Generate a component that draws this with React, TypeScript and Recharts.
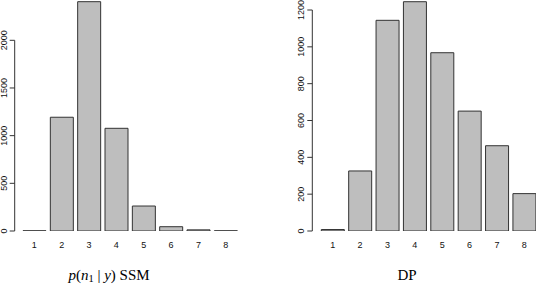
import { BarChart, Bar, XAxis, YAxis } from 'recharts';

const categories = ['1', '2', '3', '4', '5', '6', '7', '8'];
const ssmValues = [2, 1193, 2405, 1077, 262, 45, 12, 2];
const dpValues = [8, 326, 1144, 1245, 968, 651, 463, 203];
const ssmTicks = [0, 500, 1000, 1500, 2000];
const dpTicks = [0, 200, 400, 600, 800, 1000, 1200];

const ssmData = categories.map((c, i) => ({ name: c, value: ssmValues[i] }));
const dpData = categories.map((c, i) => ({ name: c, value: dpValues[i] }));

const SANS = 'Liberation Sans, Arial, Helvetica, sans-serif';
const SERIF = 'Liberation Serif, Times New Roman, serif';
const H = 284;
const BASE = 231; // pixel row of the zero line

const YTick = (props: any) => {
  const { x, y, payload } = props;
  const tx = x - 1;
  return (
    <text
      x={tx}
      y={y}
      transform={`rotate(-90 ${tx} ${y})`}
      textAnchor="middle"
      fontSize={9}
      fontFamily={SANS}
      fill="#111"
    >
      {payload.value}
    </text>
  );
};

interface PanelProps {
  data: { name: string; value: number }[];
  ticks: number[];
  width: number;
  axisX: number; // x of the y axis line
  padLeft: number;
  right: number;
  topTickY: number; // pixel row of the last tick
}

function Panel({ data, ticks, width, axisX, padLeft, right, topTickY }: PanelProps) {
  const topTick = ticks[ticks.length - 1];
  const domainMax = (topTick * BASE) / (BASE - topTickY);
  return (
    <div style={{ position: 'relative', width, height: H }}>
      <div style={{ position: 'absolute', left: 0, top: 0 }}>
        <BarChart
          width={width}
          height={H}
          data={data}
          margin={{ top: 0, right, bottom: H - BASE - 20, left: axisX }}
          barCategoryGap="8.4%"
        >
          <XAxis
            dataKey="name"
            height={20}
            axisLine={false}
            tickLine={false}
            tickMargin={5}
            padding={{ left: padLeft, right: 0 }}
            tick={{ fontSize: 9, fontFamily: SANS, fill: '#111' }}
            interval={0}
          />
          <YAxis hide domain={[0, domainMax]} allowDataOverflow />
          <Bar
            dataKey="value"
            fill="#bebebe"
            stroke="#333"
            strokeWidth={1}
            isAnimationActive={false}
          />
        </BarChart>
      </div>
      {/* axis-only chart: the y axis line runs from 0 up to the last tick */}
      <div style={{ position: 'absolute', left: 0, top: 0 }}>
        <BarChart
          width={width}
          height={H}
          data={data}
          margin={{ top: topTickY, right, bottom: H - BASE, left: 0 }}
        >
          <XAxis dataKey="name" hide />
          <YAxis
            width={axisX}
            domain={[0, topTick]}
            allowDataOverflow
            ticks={ticks}
            interval={0}
            tickSize={5}
            tickMargin={2}
            stroke="#333"
            tick={YTick}
          />
          <Bar dataKey="value" fill="none" stroke="none" isAnimationActive={false} />
        </BarChart>
      </div>
    </div>
  );
}

export default function App() {
  return (
    <div
      style={{
        position: 'absolute',
        left: 0,
        top: 0,
        width: 536,
        height: H,
        overflow: 'hidden',
        background: '#fff',
      }}
    >
      <div style={{ position: 'absolute', left: 0, top: 0 }}>
        <Panel
          data={ssmData}
          ticks={ssmTicks}
          width={268}
          axisX={14.7}
          padLeft={6}
          right={28.6}
          topTickY={40.3}
        />
      </div>
      <div style={{ position: 'absolute', left: 268, top: 0 }}>
        <Panel
          data={dpData}
          ticks={dpTicks}
          width={270}
          axisX={44.3}
          padLeft={6.7}
          right={0}
          topTickY={10}
        />
      </div>
      <svg
        width={536}
        height={H}
        style={{ position: 'absolute', left: 0, top: 0, pointerEvents: 'none' }}
      >
        <text x={109} y={279.5} textAnchor="middle" fontSize={15} fontFamily={SERIF} fill="#000">
          <tspan fontStyle="italic">p</tspan>
          <tspan>(</tspan>
          <tspan fontStyle="italic">n</tspan>
          <tspan fontSize={10.5} dy={2}>1</tspan>
          <tspan dy={-2}> | </tspan>
          <tspan fontStyle="italic">y</tspan>
          <tspan>) SSM</tspan>
        </text>
        <text x={407} y={279.5} textAnchor="middle" fontSize={15} fontFamily={SERIF} fill="#000">
          DP
        </text>
      </svg>
    </div>
  );
}
